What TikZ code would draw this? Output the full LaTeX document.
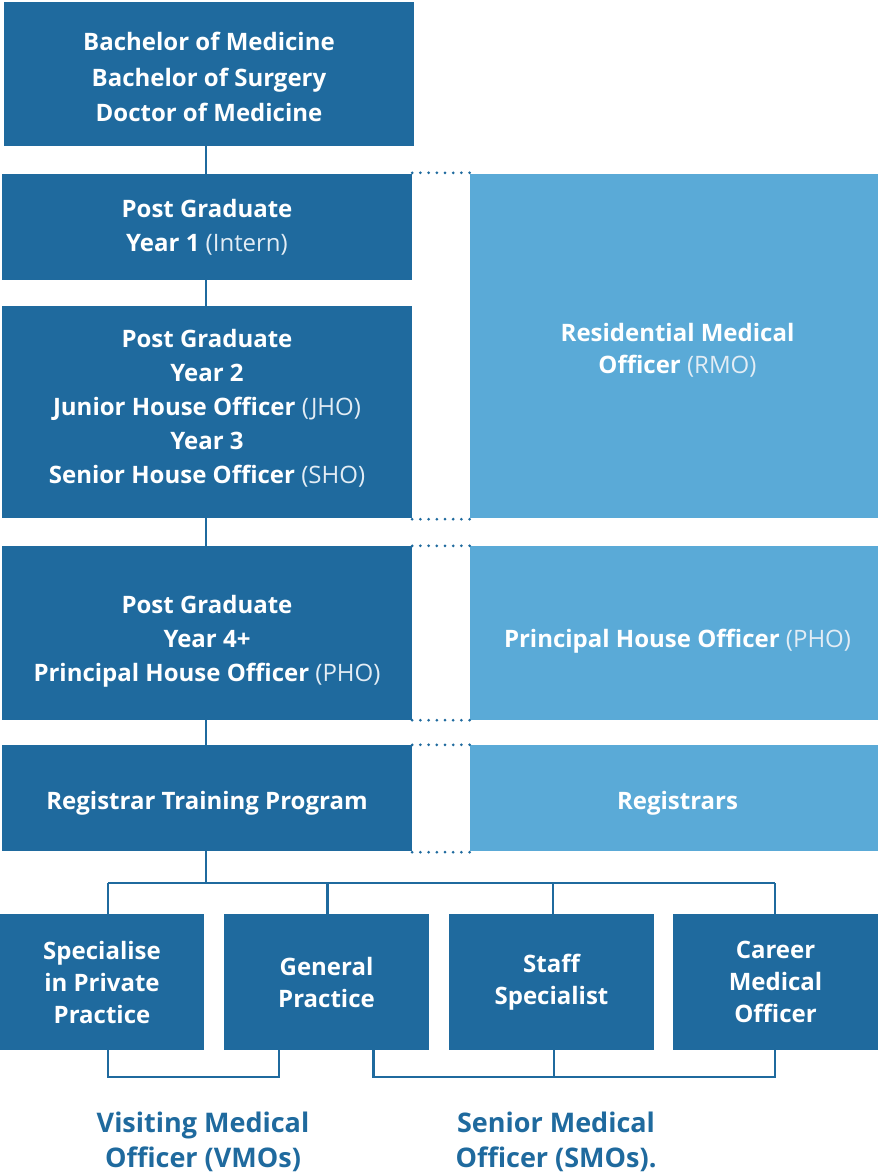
\documentclass[tikz,border=0pt]{standalone}
\usepackage{fontspec}
\setmainfont{Open Sans}
\definecolor{dblue}{HTML}{1F6A9E}
\definecolor{lblue}{HTML}{5AAAD7}
\definecolor{ltxt}{HTML}{E3EDF5}
\newcommand{\lt}[1]{{\mdseries\color{ltxt}#1}}
\tikzset{
  dbox/.style={fill=dblue, inner sep=0pt},
  lbox/.style={fill=lblue, inner sep=0pt},
  btxt/.style={text=white, align=center, inner sep=0pt, font=\fontsize{24}{34}\selectfont\bfseries},
  rtxt/.style={btxt, font=\fontsize{24}{32}\selectfont\bfseries},
  sbox/.style={fill=dblue, text=white, align=center, inner sep=0pt, minimum width=205pt, minimum height=136pt, font=\fontsize{24}{32}\selectfont\bfseries},
  conn/.style={draw=dblue, line width=2.5pt},
  dots/.style={draw=dblue, line width=3pt, line cap=round, dash pattern=on 0pt off 8.2pt},
  lab/.style={text=dblue, align=center, font=\fontsize{27}{35}\selectfont\bfseries}
}
\begin{document}
\begin{tikzpicture}[x=1pt,y=-1pt]
\useasboundingbox (0,0) rectangle (878,1172);
% left column boxes
\node[dbox, minimum width=410pt, minimum height=144pt] (b1) at (209,74) {};
\node[dbox, minimum width=410pt, minimum height=106pt] (b2) at (207,227) {};
\node[dbox, minimum width=410pt, minimum height=212pt] (b3) at (207,412) {};
\node[dbox, minimum width=410pt, minimum height=174pt] (b4) at (207,633) {};
\node[dbox, minimum width=410pt, minimum height=106pt] (b5) at (207,798) {};
% right column boxes
\node[lbox, minimum width=408pt, minimum height=344pt] (rmo) at (674,346) {};
\node[lbox, minimum width=408pt, minimum height=174pt] (pho) at (674,633) {};
\node[lbox, minimum width=408pt, minimum height=106pt] (reg) at (674,798) {};
% texts
\node[btxt, font=\fontsize{24}{35.5}\selectfont\bfseries] (b1t) at ([yshift=-3pt]b1.center) {Bachelor of Medicine\\Bachelor of Surgery\\Doctor of Medicine};
\node[btxt] (b2t) at (b2.center) {Post Graduate\\Year 1 \lt{(Intern)}};
\node[btxt] (b3t) at ([yshift=4pt]b3.center) {Post Graduate\\Year 2\\Junior House Officer \lt{(JHO)}\\Year 3\\Senior House Officer \lt{(SHO)}};
\node[btxt] (b4t) at ([yshift=-8pt]b4.center) {Post Graduate\\Year 4+\\Principal House Officer \lt{(PHO)}};
\node[btxt] (b5t) at ([yshift=-5pt]b5.center) {Registrar Training Program};
\node[rtxt] (rmot) at ([xshift=3.5pt,yshift=-4pt]rmo.center) {Residential Medical\\Officer \lt{(RMO)}};
\node[rtxt] (phot) at ([xshift=3.5pt,yshift=-8pt]pho.center) {Principal House Officer \lt{(PHO)}};
\node[rtxt] (regt) at ([xshift=3.5pt,yshift=-5pt]reg.center) {Registrars};
% bottom row
\node[sbox, minimum width=204pt] (s1) at (102,982) {Specialise\\in Private\\Practice};
\node[sbox] (s2) at (326.5,982) {General\\Practice};
\node[sbox] (s3) at (551.5,982) {Staff\\Specialist};
\node[sbox] (s4) at (775.5,982) {Career\\Medical\\Officer};
% labels
\node[lab] (vmo) at (203,1142) {Visiting Medical\\Officer (VMOs)};
\node[lab] (smo) at (556,1142) {Senior Medical\\Officer (SMOs).};
% vertical connectors
\draw[conn] (b1.south -| 206,0) -- (b2.north -| 206,0);
\draw[conn] (b2.south -| 206,0) -- (b3.north -| 206,0);
\draw[conn] (b3.south -| 206,0) -- (b4.north -| 206,0);
\draw[conn] (b4.south -| 206,0) -- (b5.north -| 206,0);
% dotted links
\draw[dots] ([yshift=1pt]b2.north east) -- ([yshift=1pt]rmo.north west);
\draw[dots] ([yshift=-1pt]b3.south east) -- ([yshift=-1pt]rmo.south west);
\draw[dots] (b4.north east) -- (pho.north west);
\draw[dots] (b4.south east) -- (pho.south west);
\draw[dots] (b5.north east) -- (reg.north west);
\draw[dots] ([yshift=-1pt]b5.south east) -- ([yshift=-1pt]reg.south west);
% tree
\coordinate (t1) at (108,883);
\coordinate (t2) at (327.5,883);
\coordinate (t3) at (553,883);
\coordinate (t4) at (775,883);
\draw[conn] (b5.south -| 206,0) -- (206,883);
\draw[conn] (t1) -- (t4);
\draw[conn] (t1) -- (t1 |- s1.north);
\draw[conn] (t2) -- (t2 |- s2.north);
\draw[conn] (t3) -- (t3 |- s3.north);
\draw[conn] (t4) -- (t4 |- s4.north);
% lower brackets
\coordinate (v1) at (108,1077);
\coordinate (v2) at (279,1077);
\draw[conn] (v1 |- s1.south) -- (v1) -- (v2) -- (v2 |- s2.south);
\coordinate (w1) at (373.5,1077);
\coordinate (w2) at (554,1077);
\coordinate (w3) at (775,1077);
\draw[conn] (w1 |- s2.south) -- (w1) -- (w3) -- (w3 |- s4.south);
\draw[conn] (w2 |- s3.south) -- (w2);
\end{tikzpicture}
\end{document}
